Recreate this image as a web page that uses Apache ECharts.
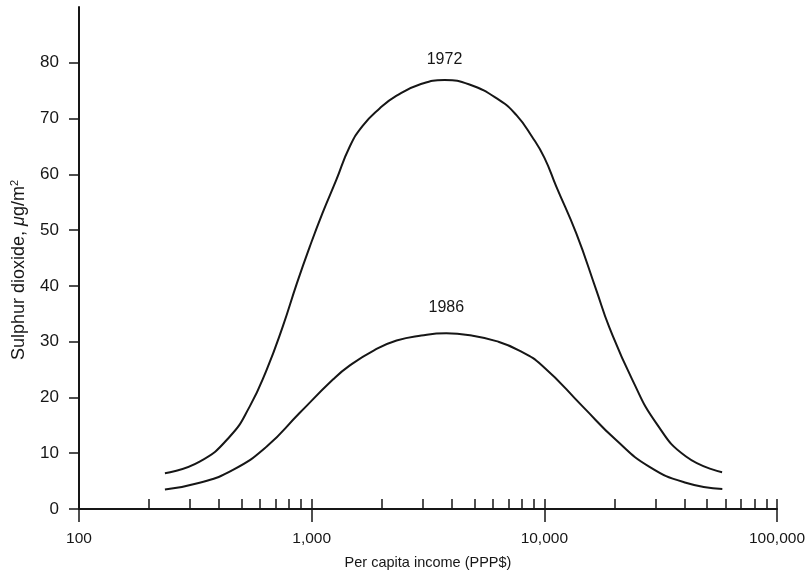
<!DOCTYPE html>
<html>
<head>
<meta charset="utf-8">
<script src="https://cdn.jsdelivr.net/npm/echarts@6/dist/echarts.min.js"></script>
<style>
  html, body { margin: 0; padding: 0; background: #fff; }
  #chart { width: 805px; height: 581px; }
</style>
</head>
<body>
<div id="chart"></div>
<script>
// per capita income (PPP$) and SO2 concentration
const income1972 = [234, 330, 445, 542, 641, 751, 863, 979, 1112, 1276, 1455, 1656, 1959, 2317, 2912, 3724,
                    4766, 6410, 7590, 8870, 10000, 11260, 13720, 16710, 19010, 23870, 30260, 40640, 58080];
const so2_1972 = [6.4, 8.5, 13.0, 18.4, 25.0, 32.7, 40.4, 46.9, 53.0, 59.0, 64.9, 68.7, 71.8, 74.1, 76.1, 76.9,
                  76.1, 73.3, 70.6, 66.7, 63.0, 57.8, 49.4, 39.3, 32.6, 23.2, 15.4, 9.4, 6.6];

const income1986 = [234, 330, 459, 641, 887, 1234, 1455, 1862, 2317, 2960, 3790,
                    4870, 6220, 7730, 9800, 14600, 20290, 28210, 40550, 58210];
const so2_1986 = [3.5, 4.7, 7.0, 11.2, 17.2, 23.2, 25.7, 28.5, 30.2, 31.1, 31.5,
                  31.1, 30.1, 28.5, 25.7, 18.4, 12.4, 7.6, 4.7, 3.6];

// axis ticks
const majorTicks = [100, 1000, 10000, 100000];
const minorTicks = [200, 300, 400, 500, 600, 700, 800, 900,
                    2000, 3000, 4000, 5000, 6000, 7000, 8000, 9000,
                    20000, 30000, 40000, 50000, 60000, 70000, 80000, 90000];
const yTicks = [0, 10, 20, 30, 40, 50, 60, 70, 80];

const FONT = "'Liberation Sans', Arial, sans-serif";
const INK = '#161616';

const toPairs = (xs, ys) => xs.map((x, i) => [x, ys[i]]);

const myChart = echarts.init(document.getElementById('chart'));

const lineSeries = (name, xs, ys, dist) => ({
  name: name,
  type: 'line',
  smooth: 0.5,
  symbol: 'none',
  lineStyle: { color: INK, width: 2 },
  data: toPairs(xs, ys),
  markPoint: {
    symbol: 'circle',
    symbolSize: 0,
    data: [{ type: 'max', valueIndex: 1 }],
    label: {
      show: true,
      position: 'top',
      distance: dist,
      formatter: p => p.seriesName,
      color: INK,
      fontFamily: FONT,
      fontSize: 16
    }
  }
});

myChart.setOption({
  animation: false,
  grid: { left: 79, right: 28, top: 7, bottom: 72, outerBoundsMode: 'none' },
  xAxis: [
    {
      type: 'log',
      position: 'bottom',
      min: 100,
      max: 100000,
      axisLine: { onZero: false, lineStyle: { color: INK, width: 2 } },
      axisTick: { inside: true, length: 10, customValues: majorTicks.concat(minorTicks),
                  lineStyle: { color: INK, width: 1.5 } },
      axisLabel: {
        customValues: majorTicks,
        margin: 22,
        color: INK,
        fontFamily: FONT,
        fontSize: 15.5,
        formatter: v => Number(v).toLocaleString('en-US')
      },
      splitLine: { show: false },
      name: 'Per capita income (PPP$)',
      nameLocation: 'middle',
      nameGap: 46,
      nameTextStyle: { color: INK, fontFamily: FONT, fontSize: 14.5 }
    },
    {
      // major ticks reach below the axis line too
      type: 'log',
      position: 'bottom',
      min: 100,
      max: 100000,
      axisLine: { show: false, onZero: false },
      axisTick: { inside: false, length: 13, customValues: majorTicks,
                  lineStyle: { color: INK, width: 1.5 } },
      axisLabel: { show: false },
      splitLine: { show: false }
    }
  ],
  yAxis: {
    type: 'value',
    min: 0,
    max: 90,
    interval: 10,
    axisLine: { show: true, onZero: false, lineStyle: { color: INK, width: 2 } },
    axisTick: { show: true, length: 10, customValues: yTicks, lineStyle: { color: INK, width: 1.5 } },
    axisLabel: { customValues: yTicks, margin: 20, color: INK, fontFamily: FONT, fontSize: 17 },
    splitLine: { show: false },
    name: '{t|Sulphur dioxide, }{i|μ}{t|g/m}{s|2}',
    nameLocation: 'middle',
    nameGap: 50,
    nameTextStyle: {
      padding: [0, 24, 0, 0],
      rich: {
        t: { fontFamily: FONT, fontSize: 18, color: INK },
        i: { fontFamily: FONT, fontSize: 18, color: INK, fontStyle: 'italic' },
        s: { fontFamily: FONT, fontSize: 11, color: INK, verticalAlign: 'top', padding: [0, 0, 9, 0] }
      }
    }
  },
  series: [
    lineSeries('1972', income1972, so2_1972, 12),
    lineSeries('1986', income1986, so2_1986, 18)
  ]
});
</script>
</body>
</html>
